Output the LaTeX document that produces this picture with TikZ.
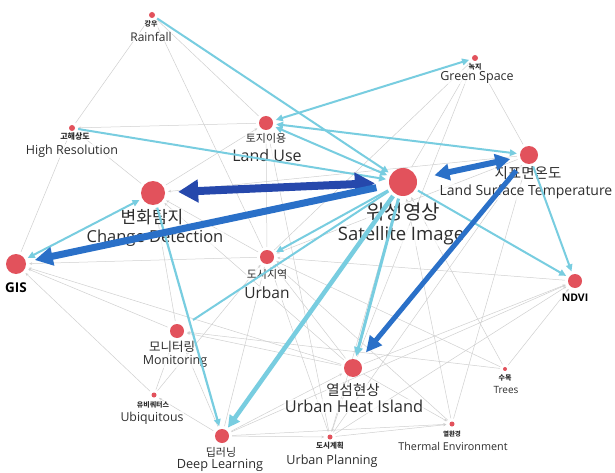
\documentclass[tikz,border=0pt]{standalone}
\usepackage{fontspec}
\setmainfont{Open Sans}
\newfontfamily\kr{Noto Sans CJK KR}
\usetikzlibrary{arrows.meta}
\pgfdeclarelayer{bg}
\pgfsetlayers{bg,main}
\definecolor{dotred}{RGB}{226,82,92}
\definecolor{cyanl}{RGB}{120,205,224}
\definecolor{darkb}{RGB}{38,72,172}
\definecolor{midb}{RGB}{42,112,200}
\definecolor{grayl}{RGB}{208,208,208}
\definecolor{txt}{RGB}{45,45,45}
\tikzset{
  kdot/.style={circle,fill=dotred,inner sep=0pt,minimum size=#1},
  klab/.style={inner sep=0.6pt,fill=white,fill opacity=0.7,text opacity=1,text=txt},
  gl/.style={draw=grayl,line width=0.5pt,-{Stealth[length=3pt,width=2.6pt]},shorten >=3pt,shorten <=3pt},
  cy/.style={draw=cyanl,line width=2pt,shorten >=3pt,shorten <=3pt},
  cya/.style={cy,-{Triangle[length=7pt,width=6.5pt]}},
  cyb/.style={cy,{Triangle[length=7pt,width=6.5pt]}-{Triangle[length=7pt,width=6.5pt]}},
}
\newcommand{\fs}[1]{\fontsize{#1}{#1}\selectfont}
\begin{document}
\begin{tikzpicture}[x=1pt,y=-1pt]
\begin{pgfonlayer}{bg}
\fill[white] (0,0) rectangle (615,473);
\end{pgfonlayer}
\useasboundingbox (0,0) rectangle (615,473);
% dots
\node[kdot=6pt] (rain) at (152,15) {};
\node[kdot=6pt] (hires) at (72,128) {};
\node[kdot=14pt] (land) at (266,123) {};
\node[kdot=6pt] (green) at (475,58) {};
\node[kdot=18pt] (lst) at (529,155) {};
\node[kdot=28pt] (sat) at (403,182) {};
\node[kdot=24pt] (cd) at (153,193) {};
\node[kdot=20pt] (gis) at (16,264) {};
\node[kdot=14pt] (urban) at (267,257) {};
\node[kdot=14pt] (ndvi) at (575,281) {};
\node[kdot=14pt] (mon) at (177,331) {};
\node[kdot=5pt] (ubi) at (154,395) {};
\node[kdot=18pt] (uhi) at (353,368) {};
\node[kdot=4pt] (trees) at (505,369) {};
\node[kdot=14pt] (dl) at (222,436) {};
\node[kdot=5pt] (up) at (330,437) {};
\node[kdot=5pt] (therm) at (452,424) {};
% labels
\node[klab,font=\kr\bfseries\fs{7}] (rainK) at (151,24) {강우};
\node[klab,font=\fs{12}] (rainE) at (151,37) {Rainfall};
\node[klab,font=\kr\bfseries\fs{8}] (hiresK) at (75,137) {고해상도};
\node[klab,font=\fs{12.5}] (hiresE) at (72,151) {High Resolution};
\node[klab,font=\kr\fs{11}] (landK) at (266,138) {토지이용};
\node[klab,font=\fs{16}] (landE) at (267,155) {Land Use};
\node[klab,font=\kr\bfseries\fs{7}] (greenK) at (475,67) {녹지};
\node[klab,font=\fs{12.5}] (greenE) at (477,77) {Green Space};
\node[klab,font=\kr\fs{14.5}] (lstK) at (528,173) {지표면온도};
\node[klab,font=\fs{14}] (lstE) at (526,192) {Land Surface Temperature};
\node[klab,font=\kr\fs{20}] (satK) at (403,212) {위성영상};
\node[klab,font=\fs{18.5}] (satE) at (401,236) {Satellite Image};
\node[klab,font=\kr\fs{17}] (cdK) at (152,217) {변화탐지};
\node[klab,font=\fs{16.5}] (cdE) at (155,238) {Change Detection};
\node[klab,font=\bfseries\fs{13.5},text=black] (gisE) at (16,288) {GIS};
\node[klab,font=\kr\fs{11}] (urbanK) at (267,274) {도시지역};
\node[klab,font=\fs{15.5}] (urbanE) at (267,293) {Urban};
\node[klab,font=\bfseries\fs{10.5},text=black] (ndviE) at (575,298) {NDVI};
\node[klab,font=\kr\fs{12.5}] (monK) at (172,347) {모니터링};
\node[klab,font=\fs{12.5}] (monE) at (175,361) {Monitoring};
\node[klab,font=\kr\bfseries\fs{7}] (ubiK) at (153,405) {유비쿼터스};
\node[klab,font=\fs{12.3}] (ubiE) at (152,418) {Ubiquitous};
\node[klab,font=\kr\fs{14.5}] (uhiK) at (353,390) {열섬현상};
\node[klab,font=\fs{16.4}] (uhiE) at (354,406) {Urban Heat Island};
\node[klab,font=\kr\bfseries\fs{7}] (treesK) at (505,378) {수목};
\node[klab,font=\fs{10}] (treesE) at (506,390) {Trees};
\node[klab,font=\kr\fs{11}] (dlK) at (221,452) {딥러닝};
\node[klab,font=\fs{12.7}] (dlE) at (220,465) {Deep Learning};
\node[klab,font=\kr\bfseries\fs{7.5}] (upK) at (330,446) {도시계획};
\node[klab,font=\fs{12.6}] (upE) at (332,461) {Urban Planning};
\node[klab,font=\kr\bfseries\fs{6.5}] (thermK) at (452,434) {열환경};
\node[klab,font=\fs{10.8}] (thermE) at (453,446) {Thermal Environment};
% gray edges
\begin{pgfonlayer}{bg}
\foreach \a/\b in {hires/rain,land/rain,urban/rain,land/hires,gis/hires,cd/hires,
  cd/land,urban/land,up/land,sat/green,lst/green,urban/green,uhi/green,
  lst/cd,urban/cd,mon/cd,uhi/cd,urban/gis,mon/gis,ubi/gis,uhi/gis,
  ubi/mon,dl/mon,uhi/mon,trees/mon,ubi/urban,dl/ubi,
  dl/urban,uhi/urban,up/urban,ndvi/urban,therm/urban,trees/urban,lst/urban,
  up/sat,therm/sat,trees/sat,therm/lst,up/lst,
  uhi/ndvi,up/ndvi,trees/ndvi,dl/ndvi,uhi/therm,up/therm,dl/therm,
  dl/up,uhi/up,dl/uhi}
  \draw[gl] (\a) -- (\b);
\end{pgfonlayer}
% cyan edges
\coordinate (monj) at (193,320);
\draw[cya] (rain) -- (sat);
\draw[cya] (hires) -- (sat);
\draw[cyb] (land) -- (green);
\draw[cyb] (land) -- (lst);
\draw[cyb] (land) -- (sat);
\draw[cya] (sat) -- (urban);
\draw[cy,shorten >=0pt] (sat) -- (monj);
\draw[cya,line width=2.2pt] (cd) -- (dl);
\draw[cyb] (cd) -- (gis);
\draw[cy,line width=4.5pt,-{Triangle[length=12pt,width=12pt]}] (sat) -- (dl);
\draw[cy,line width=3pt,-{Triangle[length=9pt,width=8.5pt]}] (sat) -- (uhi);
\draw[cya] (sat) -- (ndvi);
\draw[cya] (lst) -- (ndvi);
% blue arrows
\draw[darkb,line width=8pt,{Triangle[length=20pt,width=22pt]}-{Triangle[length=20pt,width=22pt]},shorten <=13pt,shorten >=14pt] (cd) -- (sat);
\draw[midb,line width=7pt,-{Triangle[length=18pt,width=18pt]},shorten <=13pt,shorten >=9pt] (sat) -- (gis);
\draw[midb,line width=6pt,{Triangle[length=15pt,width=16pt]}-{Triangle[length=15pt,width=16pt]},shorten <=18pt,shorten >=10pt] (sat) -- (lst);
\draw[midb,line width=5pt,-{Triangle[length=16pt,width=15pt]},shorten <=11pt,shorten >=11pt] (lst) -- (uhi);
\end{tikzpicture}
\end{document}
